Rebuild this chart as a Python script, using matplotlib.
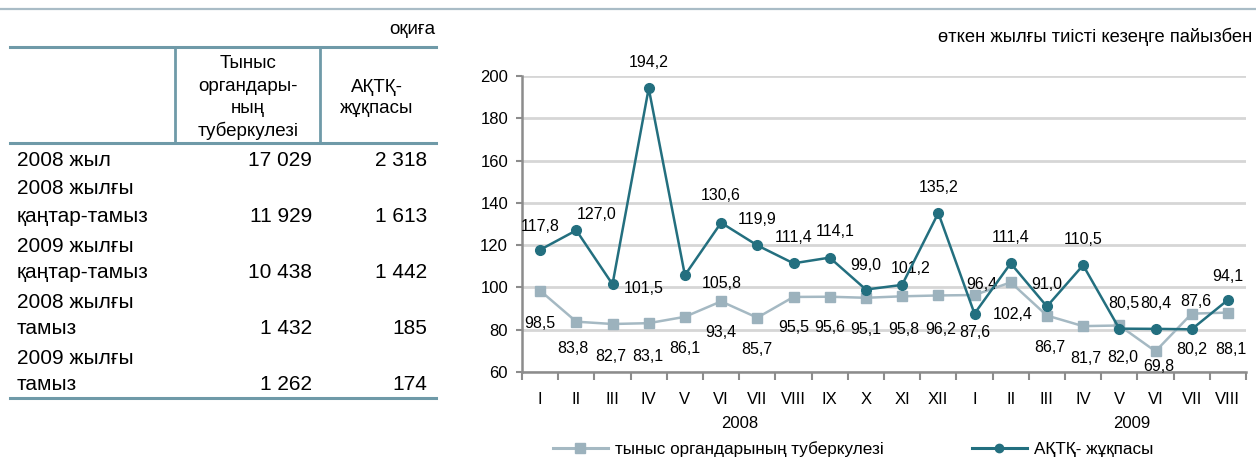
import matplotlib
matplotlib.use("Agg")
import matplotlib.pyplot as plt
from matplotlib.lines import Line2D
from matplotlib import font_manager

# ---------------- data ----------------
months = ["I", "II", "III", "IV", "V", "VI", "VII", "VIII", "IX", "X", "XI", "XII",
          "I", "II", "III", "IV", "V", "VI", "VII", "VIII"]
years = ["2008", "2009"]
tb_values = [98.5, 83.8, 82.7, 83.1, 86.1, 93.4, 85.7, 95.5, 95.6, 95.1, 95.8, 96.2,
             96.4, 102.4, 86.7, 81.7, 82.0, 69.8, 87.6, 88.1]
hiv_values = [117.8, 127.0, 101.5, 194.2, 105.8, 130.6, 119.9, 111.4, 114.1, 99.0, 101.2, 135.2,
              87.6, 111.4, 91.0, 110.5, 80.5, 80.4, 80.2, 94.1]
series_names = ["тыныс органдарының туберкулезі", "АҚТҚ- жұқпасы"]

table_unit = "оқиға"
table_header = ["Тыныс\nоргандары-\nның\nтуберкулезі", "АҚТҚ-\nжұқпасы"]
table_rows = ["2008 жыл", "2008 жылғы\nқаңтар-тамыз", "2009 жылғы\nқаңтар-тамыз",
              "2008 жылғы\nтамыз", "2009 жылғы\nтамыз"]
table_tb = ["17 029", "11 929", "10 438", "1 432", "1 262"]
table_hiv = ["2 318", "1 613", "1 442", "185", "174"]
chart_title = "өткен жылғы тиісті кезеңге пайызбен"

# label offsets (pixels) -- styling only
hiv_off = [(0, 23), (20, 16), (31, -4), (0, 26), (37, -8), (0, 27), (0, 26), (0, 26), (5, 26),
           (0, 24), (9, 16), (0, 26), (0, -19), (0, 26), (0, 22), (0, 26), (5, 25), (0, 25),
           (0, -20), (0, 23)]
tb_off = [(0, -33), (-3, -27), (-2, -32), (-1, -33), (0, -32), (0, -31), (0, -32), (0, -31),
          (0, -31), (0, -32), (2, -33), (2, -34), (7, 11), (2, -32), (3, -32), (3, -32),
          (3, -32), (3, -15), (4, 12), (3, -37)]

# ---------------- fonts / colors ----------------
names = {f.name for f in font_manager.fontManager.ttflist}
main_font = "Liberation Sans" if "Liberation Sans" in names else "DejaVu Sans"
plt.rcParams["font.family"] = [main_font, "DejaVu Sans"]

HIV_C = "#236f7f"
TB_C = "#a5b9c3"
TB_M = "#9cb2bd"
TAB_LINE = "#6f9aa8"
GRID = "#d6d6d6"
AX = "#8c8c8c"

W, H = 1256, 474
fig = plt.figure(figsize=(W / 100, H / 100), dpi=100)


def fx(x):
    return x / W


def fy(y):
    return 1 - y / H


def hline(x0, x1, y, color, lw=2.0):
    fig.add_artist(Line2D([fx(x0), fx(x1)], [fy(y), fy(y)], color=color, lw=lw,
                          transform=fig.transFigure))


def vline(x, y0, y1, color, lw=2.0):
    fig.add_artist(Line2D([fx(x), fx(x)], [fy(y0), fy(y1)], color=color, lw=lw,
                          transform=fig.transFigure))


# top rule
hline(0, W, 9, "#a9bcc6", 1.6)

# ---------------- table ----------------
fig.text(fx(435), fy(30), table_unit, ha="right", va="center", fontsize=13.5)
hline(10, 436, 47, TAB_LINE, 2.2)
hline(10, 436, 143, TAB_LINE, 2.2)
hline(10, 436, 398, TAB_LINE, 2.2)
vline(175, 47, 143, TAB_LINE, 2.0)
vline(320, 47, 143, TAB_LINE, 2.0)
hdr_lines0 = table_header[0].split("\n")
for k, t in enumerate(hdr_lines0):
    fig.text(fx(248), fy(64 + k * 22.3), t, ha="center", va="center", fontsize=13.5)
hdr_lines1 = table_header[1].split("\n")
for k, t in enumerate(hdr_lines1):
    fig.text(fx(377), fy(87 + k * 21.5), t, ha="center", va="center", fontsize=13.5)

row_y = [160, 216, 273, 329, 385]
for lab, a, b, y in zip(table_rows, table_tb, table_hiv, row_y):
    lines = lab.split("\n")
    if len(lines) == 2:
        fig.text(fx(17), fy(y - 27), lines[0], ha="left", va="center", fontsize=15)
        fig.text(fx(17), fy(y), lines[1], ha="left", va="center", fontsize=15)
    else:
        fig.text(fx(17), fy(y), lines[0], ha="left", va="center", fontsize=15)
    fig.text(fx(312), fy(y), a, ha="right", va="center", fontsize=15)
    fig.text(fx(427), fy(y), b, ha="right", va="center", fontsize=15)

# ---------------- chart ----------------
fig.text(fx(1252), fy(37), chart_title, ha="right", va="center", fontsize=13.2)

ax = fig.add_axes([fx(522), fy(372), fx(1246 - 522), (372 - 76) / H])
x = list(range(len(months)))
ax.plot(x, tb_values, color=TB_C, lw=1.8, marker="s", ms=7.5, mfc=TB_M, mec=TB_M, zorder=3)
ax.plot(x, hiv_values, color=HIV_C, lw=1.8, marker="o", ms=7, mfc=HIV_C, mec=HIV_C, zorder=4)

ax.set_xlim(-0.5, len(months) - 0.5)
ax.set_ylim(60, 200)
ax.set_yticks(range(60, 201, 20))
ax.yaxis.grid(True, color=GRID, lw=2)
ax.set_axisbelow(True)
for s in ["top", "right"]:
    ax.spines[s].set_visible(False)
for s in ["left", "bottom"]:
    ax.spines[s].set_color(AX)
    ax.spines[s].set_linewidth(1.8)
ax.tick_params(axis="y", colors="black", labelsize=12, length=4, width=1.5, color=AX, pad=6)

ax.set_xticks([i - 0.5 for i in range(len(months) + 1)])
ax.set_xticklabels([])
ax.tick_params(axis="x", length=6, width=1.5, color=AX, direction="out")
for i, m in enumerate(months):
    ax.annotate(m, (i, 60), xytext=(0, -28), textcoords="offset pixels", ha="center",
                va="center", fontsize=12, annotation_clip=False)
ax.annotate(years[0], (5.5, 60), xytext=(0, -51), textcoords="offset pixels", ha="center",
            va="center", fontsize=12, annotation_clip=False)
ax.annotate(years[1], (16.35, 60), xytext=(0, -51), textcoords="offset pixels", ha="center",
            va="center", fontsize=12, annotation_clip=False)


def fmt(v):
    return f"{v:.1f}".replace(".", ",")


for i, v in enumerate(hiv_values):
    ax.annotate(fmt(v), (i, v), xytext=hiv_off[i], textcoords="offset pixels", ha="center",
                va="center", fontsize=11.5, annotation_clip=False)
for i, v in enumerate(tb_values):
    ax.annotate(fmt(v), (i, v), xytext=tb_off[i], textcoords="offset pixels", ha="center",
                va="center", fontsize=11.5, annotation_clip=False)

# legend
handles = [Line2D([], [], color=TB_C, lw=2.2, marker="s", ms=7, mfc=TB_M, mec=TB_M),
           Line2D([], [], color=HIV_C, lw=2.2, marker="o", ms=6, mfc=HIV_C, mec=HIV_C)]
leg = fig.legend(handles, series_names, loc="center", bbox_to_anchor=(fx(853), fy(449)),
                 ncol=2, frameon=False, handlelength=3.2, columnspacing=5.2,
                 handletextpad=0.4, prop={"size": 12.3})

fig.savefig("out.png", dpi=100)
